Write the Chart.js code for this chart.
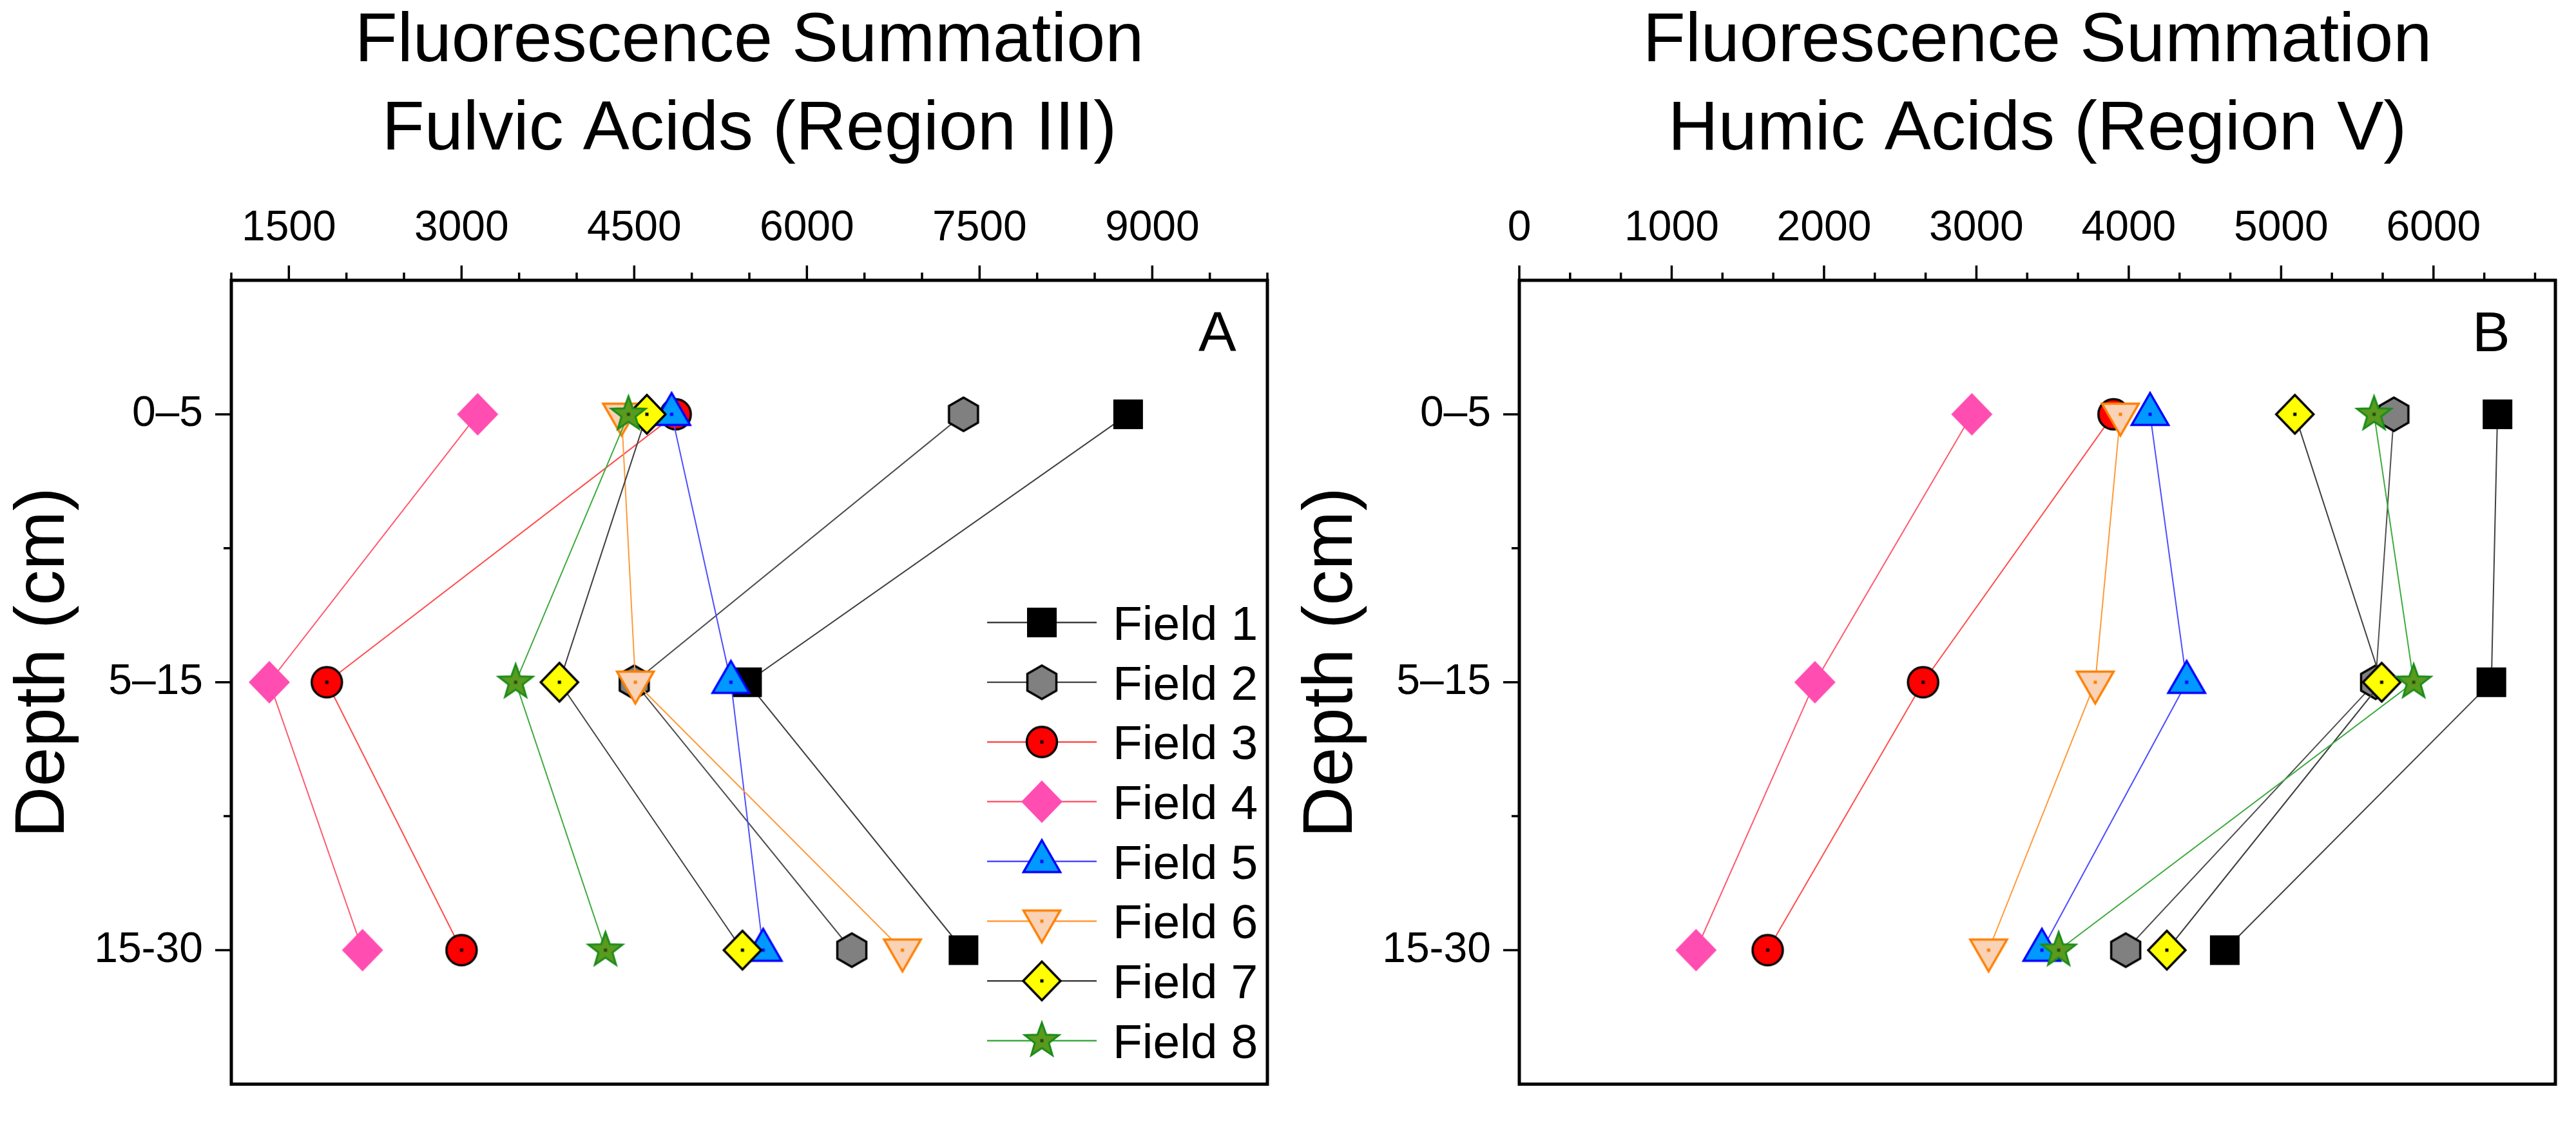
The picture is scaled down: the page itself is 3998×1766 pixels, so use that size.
<!DOCTYPE html>
<html>
<head>
<meta charset="utf-8">
<title>Fluorescence Summation</title>
<script src="https://cdn.jsdelivr.net/npm/chart.js@4.4.1/dist/chart.umd.min.js"></script>
<style>
    html, body { margin: 0; padding: 0; background: #ffffff; }
    #wrap { display: flex; width: 3998px; height: 1766px; }
    canvas { display: block; }
</style>
</head>
<body>
<div id="wrap">
    <canvas id="chartA" width="1999" height="1766"></canvas>
    <canvas id="chartB" width="1999" height="1766"></canvas>
</div>
<script>
// depth classes (y axis, top to bottom)
var depthLabels = ["0–5", "5–15", "15-30"];
var fieldNames = ["Field 1", "Field 2", "Field 3", "Field 4", "Field 5", "Field 6", "Field 7", "Field 8"];

// A: fulvic acids (Region III), values for 0–5, 5–15, 15-30 cm
var fulvic1 = [8790, 5480, 7360];
var fulvic2 = [7360, 4500, 6390];
var fulvic3 = [4860, 1830, 3000];
var fulvic4 = [3140, 1330, 2140];
var fulvic5 = [4825, 5340, 5620];
var fulvic6 = [4390, 4510, 6830];
var fulvic7 = [4610, 3850, 5440];
var fulvic8 = [4450, 3470, 4250];

// B: humic acids (Region V), values for 0–5, 5–15, 15-30 cm
var humic1 = [6420, 6380, 4630];
var humic2 = [5740, 5620, 3980];
var humic3 = [3900, 2650, 1630];
var humic4 = [2970, 1940, 1160];
var humic5 = [4140, 4380, 3430];
var humic6 = [3945, 3780, 3080];
var humic7 = [5090, 5660, 4250];
var humic8 = [5610, 5870, 3540];

// axis tick labels
var ticksA = [1500, 3000, 4500, 6000, 7500, 9000];
var ticksB = [0, 1000, 2000, 3000, 4000, 5000, 6000];

var FONT = "'Liberation Sans', Arial, sans-serif";
Chart.defaults.font.family = FONT;
Chart.defaults.color = "#000";

var lineColors = ["#404040", "#505050", "#ff4d4d", "#ff5a70", "#4d4dff", "#ff9a3c", "#404040", "#3daa3d"];

// symbol canvases used as point styles
function makeSymbol(kind, fill, stroke, lw, dot) {
    var S = 80;
    var c = document.createElement("canvas");
    c.width = S;
    c.height = S;
    var g = c.getContext("2d");
    g.translate(S / 2, S / 2);
    g.beginPath();
    var k, a;
    if (kind === "square") {
        g.rect(-23, -23, 46, 46);
    } else if (kind === "hexagon") {
        for (k = 0; k < 6; k++) {
            a = -Math.PI / 2 + k * Math.PI / 3;
            g.lineTo(26 * Math.cos(a), 26 * Math.sin(a));
        }
    } else if (kind === "circle") {
        g.arc(0, 0, 23.5, 0, Math.PI * 2);
    } else if (kind === "diamondBig") {
        g.moveTo(0, -33); g.lineTo(32, 0); g.lineTo(0, 33); g.lineTo(-32, 0);
    } else if (kind === "diamond") {
        g.moveTo(0, -30); g.lineTo(29, 0); g.lineTo(0, 30); g.lineTo(-29, 0);
    } else if (kind === "triUp") {
        g.moveTo(0, -33); g.lineTo(28.5, 16.5); g.lineTo(-28.5, 16.5);
    } else if (kind === "triDown") {
        g.moveTo(0, 33); g.lineTo(28.5, -16.5); g.lineTo(-28.5, -16.5);
    } else if (kind === "star") {
        for (k = 0; k < 10; k++) {
            a = -Math.PI / 2 + k * Math.PI / 5;
            var r = k % 2 === 0 ? 28 : 11.5;
            g.lineTo(r * Math.cos(a), r * Math.sin(a));
        }
    }
    g.closePath();
    g.fillStyle = fill;
    g.fill();
    if (stroke) {
        g.lineWidth = lw;
        g.lineJoin = "miter";
        g.strokeStyle = stroke;
        g.stroke();
    }
    if (dot) {
        g.fillStyle = dot;
        g.fillRect(-2.5, -2.5, 5, 5);
    }
    return c;
}

var symbols = [
    makeSymbol("square", "#000000", null, 0, null),
    makeSymbol("hexagon", "#808080", "#000000", 3.5, null),
    makeSymbol("circle", "#ff0000", "#000000", 3.5, "#000000"),
    makeSymbol("diamondBig", "#ff4db2", null, 0, null),
    makeSymbol("triUp", "#0099ff", "#0000ff", 3.5, "#0000ff"),
    makeSymbol("triDown", "#fad2b6", "#ff8000", 3.5, "#ff8000"),
    makeSymbol("diamond", "#ffff00", "#000000", 3.5, "#000000"),
    makeSymbol("star", "#5a9a1e", "#1a8c1a", 3, "#2a4a10")
];

// frame, tick marks, panel letter and legend
var decoPlugin = {
    id: "deco",
    afterDraw: function (chart, args, opts) {
        var ctx = chart.ctx;
        var area = chart.chartArea;
        var xs = chart.scales.x;
        var ys = chart.scales.y;
        ctx.save();
        ctx.strokeStyle = "#000";
        ctx.lineWidth = 3.5;
        ctx.beginPath();
        opts.major.forEach(function (v) {
            var px = xs.getPixelForValue(v);
            ctx.moveTo(px, area.top);
            ctx.lineTo(px, area.top - 23);
        });
        opts.minor.forEach(function (v) {
            var px = xs.getPixelForValue(v);
            ctx.moveTo(px, area.top);
            ctx.lineTo(px, area.top - 12);
        });
        [1, 2, 3].forEach(function (v) {
            var py = ys.getPixelForValue(v);
            ctx.moveTo(area.left, py);
            ctx.lineTo(area.left - 25, py);
        });
        [1.5, 2.5].forEach(function (v) {
            var py = ys.getPixelForValue(v);
            ctx.moveTo(area.left, py);
            ctx.lineTo(area.left - 12, py);
        });
        ctx.stroke();

        ctx.lineWidth = 5;
        ctx.strokeRect(area.left, area.top, area.right - area.left, area.bottom - area.top);

        ctx.fillStyle = "#000";
        ctx.font = "88px " + FONT;
        ctx.textAlign = "left";
        ctx.textBaseline = "alphabetic";
        ctx.fillText(opts.letter, area.right - opts.letterDx, area.top + 110);

        if (opts.legend) {
            ctx.font = "75px " + FONT;
            chart.data.datasets.forEach(function (ds, i) {
                var y = area.top + 531 + i * 92.7;
                ctx.strokeStyle = ds.borderColor;
                ctx.lineWidth = 2.5;
                ctx.beginPath();
                ctx.moveTo(area.right - 435, y);
                ctx.lineTo(area.right - 265, y);
                ctx.stroke();
                var img = ds.pointStyle;
                ctx.drawImage(img, area.right - 350 - img.width / 2, y - img.height / 2);
                ctx.fillText(ds.label, area.right - 240, y + 27);
            });
        }
        ctx.restore();
    }
};

function makeChart(id, titleLines, series, xMin, xMax, majorTicks, minorStep, letter, letterDx, showLegend) {
    var minor = [];
    for (var k = 0; xMin + k * minorStep <= xMax + 1e-6; k++) {
        var v = xMin + k * minorStep;
        var isMajor = majorTicks.some(function (m) { return Math.abs(m - v) < 1; });
        if (!isMajor) minor.push(v);
    }

    var datasets = series.map(function (vals, i) {
        return {
            label: fieldNames[i],
            data: vals.map(function (x, j) { return { x: x, y: j + 1 }; }),
            borderColor: lineColors[i],
            backgroundColor: lineColors[i],
            borderWidth: 2,
            pointStyle: symbols[i],
            pointRadius: 28,
            tension: 0,
            fill: false,
            order: series.length - i
        };
    });

    return new Chart(document.getElementById(id), {
        type: "line",
        data: { datasets: datasets },
        options: {
            responsive: false,
            animation: false,
            events: [],
            layout: { padding: { top: 0, left: 0, right: 32, bottom: 35 } },
            scales: {
                x: {
                    type: "linear",
                    position: "top",
                    min: xMin,
                    max: xMax,
                    grid: { display: false, drawTicks: false },
                    border: { display: false },
                    afterBuildTicks: function (scale) {
                        scale.ticks = majorTicks.map(function (t) { return { value: t }; });
                    },
                    afterFit: function (scale) { scale.height = 161; },
                    ticks: {
                        font: { size: 66 },
                        padding: 41,
                        maxRotation: 0,
                        minRotation: 0,
                        autoSkip: false,
                        callback: function (value) { return String(value); }
                    }
                },
                y: {
                    type: "linear",
                    min: 0.5,
                    max: 3.5,
                    reverse: true,
                    grid: { display: false, drawTicks: false },
                    border: { display: false },
                    afterBuildTicks: function (scale) {
                        scale.ticks = [{ value: 1 }, { value: 2 }, { value: 3 }];
                    },
                    afterFit: function (scale) { scale.width = 359; },
                    ticks: {
                        font: { size: 66 },
                        padding: 44,
                        autoSkip: false,
                        callback: function (value) { return depthLabels[value - 1]; }
                    },
                    title: {
                        display: true,
                        text: "  Depth (cm)",
                        font: { size: 110 },
                        padding: { top: 3, bottom: 0 }
                    }
                }
            },
            plugins: {
                legend: { display: false },
                tooltip: { enabled: false },
                title: {
                    display: true,
                    text: titleLines,
                    fullSize: false,
                    font: { size: 108, weight: "normal", lineHeight: 1.2685 },
                    padding: { top: -3, bottom: 3 }
                },
                deco: {
                    major: majorTicks,
                    minor: minor,
                    letter: letter,
                    letterDx: letterDx,
                    legend: showLegend
                }
            }
        },
        plugins: [decoPlugin]
    });
}

makeChart("chartA", ["Fluorescence Summation", "Fulvic Acids (Region III)"],
    [fulvic1, fulvic2, fulvic3, fulvic4, fulvic5, fulvic6, fulvic7, fulvic8],
    1000, 10000, ticksA, 500, "A", 107, true);

makeChart("chartB", ["Fluorescence Summation", "Humic Acids (Region V)"],
    [humic1, humic2, humic3, humic4, humic5, humic6, humic7, humic8],
    0, 6800, ticksB, 1000 / 3, "B", 129, false);
</script>
</body>
</html>
